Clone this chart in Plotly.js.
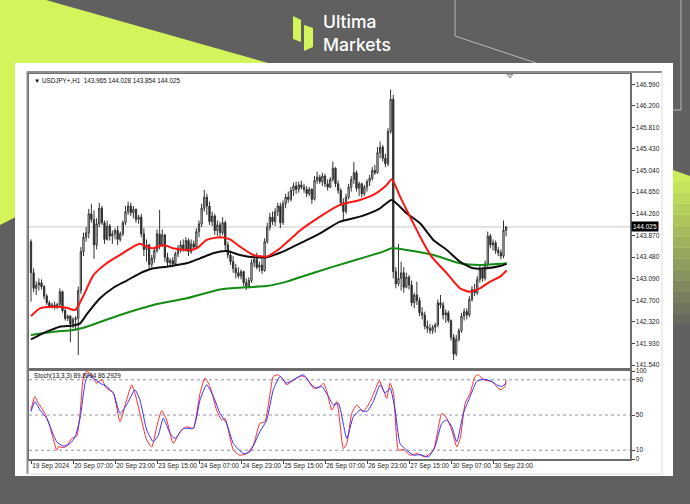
<!DOCTYPE html>
<html>
<head>
<meta charset="utf-8">
<script src="https://cdn.plot.ly/plotly-3.0.1.min.js"></script>
<style>
  html, body { margin: 0; padding: 0; background: #606060; }
  #chart { width: 690px; height: 504px; }
</style>
</head>
<body>
<div id="chart"></div>
<script>
// USDJPY+ H1 candles, bar index 0 = 19 Sep 2024 15:00
const openP = [143.76,143.20,142.92,142.98,143.02,142.95,142.78,142.66,142.60,142.62,142.58,142.63,142.86,142.52,142.38,142.42,142.28,142.36,142.38,142.88,
143.58,143.84,143.92,144.26,144.16,143.70,144.08,144.36,144.10,143.80,144.04,143.86,143.90,143.96,143.80,143.90,144.10,144.30,144.40,144.28,
144.34,144.16,144.20,143.90,143.62,143.70,143.35,143.46,143.60,143.90,143.70,143.88,143.48,143.38,143.42,143.36,143.54,143.64,143.70,143.62,
143.78,143.58,143.72,143.66,143.94,144.08,144.36,144.56,144.40,144.12,144.22,143.96,144.06,143.92,144.10,143.70,143.52,143.40,143.28,143.20,
143.14,143.22,143.02,142.96,143.06,143.38,143.44,143.30,143.34,143.24,143.76,144.02,144.20,144.12,144.30,144.40,144.10,144.44,144.56,144.52,
144.68,144.76,144.70,144.78,144.74,144.70,144.62,144.70,144.52,144.86,144.92,144.84,144.94,144.80,144.74,144.88,145.08,144.80,144.68,144.46,
144.30,144.56,144.74,144.88,145.00,144.72,144.80,144.62,144.74,144.84,144.90,145.04,145.00,145.36,145.46,145.26,145.16,145.74,146.32,143.22,
143.00,143.10,143.20,142.94,143.12,142.98,142.66,142.80,142.70,142.48,142.44,142.24,142.20,142.16,142.22,142.26,142.66,142.62,142.44,142.48,
142.34,142.04,141.74,142.00,142.16,142.42,142.50,142.44,142.72,142.90,142.84,143.08,143.26,143.10,143.36,143.86,143.70,143.74,143.60,143.56,
143.50,143.965];
const highP = [143.80,143.28,143.05,143.10,143.08,142.98,142.82,142.70,142.66,142.68,142.66,142.92,142.88,142.56,142.45,142.44,142.40,142.42,142.95,143.66,
143.92,144.02,144.35,144.44,144.32,144.18,144.46,144.40,144.14,144.14,144.08,143.96,144.00,144.04,143.94,144.14,144.40,144.48,144.46,144.40,
144.36,144.24,144.26,144.00,143.80,143.72,143.52,143.66,143.98,144.33,143.98,143.90,143.56,143.46,143.48,143.58,143.70,143.78,143.80,143.84,
143.82,143.80,143.78,144.00,144.14,144.44,144.69,144.62,144.48,144.30,144.26,144.14,144.12,144.20,144.14,143.76,143.60,143.50,143.36,143.30,
143.26,143.24,143.10,143.12,143.44,143.50,143.56,143.40,143.46,143.82,144.10,144.28,144.30,144.36,144.46,144.46,144.50,144.62,144.66,144.74,
144.82,144.84,144.84,144.86,144.80,144.76,144.74,144.72,144.94,145.02,144.96,145.00,144.98,144.88,144.92,145.20,145.10,144.86,144.72,144.54,
144.62,144.80,144.94,145.19,145.04,144.84,144.82,144.78,144.88,144.96,145.10,145.14,145.46,145.56,145.50,145.34,145.80,146.49,146.40,143.30,
143.72,143.40,143.30,143.20,143.16,143.06,142.84,143.04,142.76,142.58,142.50,142.34,142.28,142.26,142.30,142.72,142.80,142.68,142.54,142.52,
142.36,142.10,142.08,142.20,142.48,142.56,142.56,142.78,142.96,143.00,143.14,143.32,143.30,143.42,143.94,143.90,143.80,143.78,143.66,143.62,
144.14,144.028];
const lowP = [142.68,142.85,142.80,142.88,142.90,142.72,142.62,142.57,142.56,142.54,142.55,142.60,142.48,142.34,142.33,141.95,142.20,142.16,141.72,142.82,
143.50,143.76,143.82,144.10,143.45,143.62,144.02,144.06,143.72,143.78,143.78,143.72,143.80,143.70,143.76,143.86,144.06,144.24,144.22,144.18,
144.10,144.08,143.84,143.50,143.40,143.26,143.30,143.38,143.56,143.62,143.66,143.40,143.32,143.30,143.30,143.34,143.48,143.56,143.58,143.58,
143.50,143.54,143.60,143.64,143.84,144.02,144.30,144.24,144.06,144.04,143.88,143.86,143.82,143.88,143.60,143.46,143.34,143.20,143.10,143.10,
143.08,142.96,142.89,142.92,143.02,143.30,143.26,143.22,143.18,143.22,143.72,143.96,144.06,144.04,144.22,144.00,144.06,144.36,144.46,144.48,
144.58,144.62,144.64,144.70,144.64,144.56,144.58,144.44,144.50,144.80,144.80,144.76,144.74,144.68,144.72,144.84,144.74,144.62,144.40,144.15,
144.26,144.52,144.66,144.80,144.66,144.58,144.56,144.58,144.66,144.76,144.86,144.96,144.98,145.26,145.20,145.10,145.12,145.70,143.10,142.92,
142.96,142.88,142.84,142.92,142.90,142.60,142.56,142.62,142.42,142.36,142.18,142.12,142.10,142.10,142.12,142.22,142.56,142.36,142.30,142.30,
141.98,141.63,141.70,141.96,142.12,142.34,142.36,142.40,142.68,142.78,142.80,143.02,143.04,143.06,143.30,143.64,143.60,143.54,143.50,143.44,
143.46,143.854];
const closeP = [143.20,142.92,142.98,143.02,142.95,142.78,142.66,142.60,142.62,142.58,142.63,142.86,142.52,142.38,142.42,142.28,142.36,142.38,142.88,143.58,
143.84,143.92,144.26,144.16,143.70,144.08,144.36,144.10,143.80,144.04,143.86,143.90,143.96,143.80,143.90,144.10,144.30,144.40,144.28,144.34,
144.16,144.20,143.90,143.62,143.70,143.35,143.46,143.60,143.90,143.70,143.88,143.48,143.38,143.42,143.36,143.54,143.64,143.70,143.62,143.78,
143.58,143.72,143.66,143.94,144.08,144.36,144.56,144.40,144.12,144.22,143.96,144.06,143.92,144.10,143.70,143.52,143.40,143.28,143.20,143.14,
143.22,143.02,142.96,143.06,143.38,143.44,143.30,143.34,143.24,143.76,144.02,144.20,144.12,144.30,144.40,144.10,144.44,144.56,144.52,144.68,
144.76,144.70,144.78,144.74,144.70,144.62,144.70,144.52,144.86,144.92,144.84,144.94,144.80,144.74,144.88,145.08,144.80,144.68,144.46,144.30,
144.56,144.74,144.88,145.00,144.72,144.80,144.62,144.74,144.84,144.90,145.04,145.00,145.36,145.46,145.26,145.16,145.74,146.32,143.22,143.00,
143.10,143.20,142.94,143.12,142.98,142.66,142.80,142.70,142.48,142.44,142.24,142.20,142.16,142.22,142.26,142.66,142.62,142.44,142.48,142.34,
142.04,141.74,142.00,142.16,142.42,142.50,142.44,142.72,142.90,142.84,143.08,143.26,143.10,143.36,143.86,143.70,143.74,143.60,143.56,143.50,
143.965,144.025];
const barIndex = openP.map((_, i) => i);

// Moving averages (bar position, price)
const maRedBars = [0,3.4,8.5,13.6,16.8,19.9,23.7,28.8,33.9,39,41.5,44.1,46.6,50.4,54.2,59.3,63.1,66.9,72,75.8,79.6,84.7,89.8,94.9,99.9,102.5,110.1,117.7,125.3,130.4,135.5,137.4,140.6,145,149,152.6,158.4,163.4,167.2,171,174.9,178.7,181.2];
const maRed = [142.42,142.56,142.59,142.57,142.53,142.78,143.15,143.37,143.52,143.67,143.72,143.67,143.64,143.70,143.64,143.61,143.64,143.79,143.84,143.80,143.67,143.52,143.49,143.64,143.85,143.96,144.21,144.42,144.51,144.60,144.78,144.88,144.57,144.15,143.78,143.49,143.19,142.92,142.86,142.92,143.04,143.13,143.24];
const maBlackBars = [0,6,11,16.1,18.7,21.2,26.3,31.4,36.5,41.5,46.6,51.7,59.3,64.4,69.4,74.6,79.6,84.7,89.8,94.9,99.9,102.5,110.1,117.7,125.3,133,137.4,143.1,148.2,153.3,158.4,163.4,168.5,173.6,178.7,181.2];
const maBlack = [142.00,142.14,142.23,142.25,142.29,142.45,142.74,142.93,143.06,143.19,143.28,143.31,143.37,143.46,143.55,143.59,143.52,143.48,143.48,143.56,143.67,143.73,143.91,144.12,144.21,144.36,144.51,144.27,144.09,143.79,143.61,143.40,143.28,143.28,143.32,143.36];
const maGreenBars = [0,8.5,16.1,21.2,33.9,46.6,59.3,72,82.2,89.8,97.4,102.5,115.2,127.9,134.2,137.4,143.1,153.3,163.4,171,181.2];
const maGreen = [142.08,142.14,142.17,142.23,142.44,142.62,142.74,142.90,142.94,142.96,143.04,143.12,143.31,143.49,143.58,143.64,143.61,143.52,143.37,143.34,143.37];

// Stochastic(13,3,3): main and signal
const stochMainBars = [0,1.5,2.8,5.3,7.2,9.8,10.4,12.3,13.6,15.5,17.4,18.7,20,21.2,22.5,25,26.9,28.8,31.4,33.9,36.4,38.4,39.6,41.5,44.1,46,47.9,49.8,51.7,54.2,56.8,59.3,61.8,64.4,66.3,68.2,70.7,72.6,73.9,77.1,79.6,82.2,84.7,87.2,89.1,91.1,92.3,94.2,96.1,97.4,99.3,101.2,103.2,105,107.6,110.1,111.4,112.7,114.6,116.5,119,120.3,122.2,124.1,126.6,129.2,131.1,132.7,134.2,135.5,136.8,138.1,140,141.9,144.4,147,150.1,153.3,156.5,158.4,160.3,162.2,163.5,165.4,167.3,169.2,170.4,172.3,175.5,176.8,178.7,180.6,181];
const stochMain = [55.7,71,63.3,51.9,36.7,10,13.8,13,14.6,23.3,26,51.9,93.8,99.5,97.6,86.2,90,80.5,74.8,42.4,67.1,84.3,74.8,51.9,21.4,13.8,36.7,55,44.3,17.6,31,36.7,34.8,74.8,91.9,82.4,55.7,44.3,46.2,10,4.3,6.2,15.7,40.5,42.4,74.8,93.8,95.7,90,84.3,88.1,91.9,94.5,91.9,80.5,82.4,86.2,76.7,55.7,65.2,11.9,17.6,51.9,61.4,53.8,65.2,78.6,89.2,78.6,69,86.2,74.8,10,10.8,4.3,6.2,2.4,10,51.9,46.2,32.8,13.8,23.3,63.3,74.8,93.8,95.7,90,88.1,84.3,78.6,82.4,89.8094];
const stochSignalBars = [0,1.5,3.4,6,9.8,12.3,14.9,16.8,18.7,20.6,21.8,23.7,26.3,28.8,31.4,33.9,36.4,39.6,41.5,44.1,46.6,48.5,50.4,53,54.9,58,61.8,64.4,66.9,69.5,72,74.5,77.1,80.9,83.4,87.2,89.8,92.3,94.9,97.4,99.9,103.7,106.3,108.5,110.8,113.3,115.2,117.1,120.3,122.8,125.4,127.9,130.4,133,134.9,136.8,138.7,140.6,143.1,145.7,148.2,151.4,153.9,156.5,158.4,160.3,162.2,164.7,167.3,169.8,172.3,175.5,177.4,179.3,181];
const stochSignal = [53.8,65.2,55.7,46.2,19.5,14.6,17.6,25.2,46.2,86.2,95.7,91.9,86.2,82.4,74.8,51.9,61.4,78.6,67.1,32.9,19.5,27.1,46.2,29,23.3,34.8,34.8,67.1,84.3,71,51.9,40.5,17.6,6.2,8.1,31,44.3,78.6,93.8,86.2,90,95.7,86.2,80.5,82.4,71,61.4,63.3,23.3,48.1,55.7,53.8,65.2,84.3,74.8,80.5,55.7,17.6,10,4.3,5,2.4,13.8,40.5,44.3,36.7,19.5,51.9,71,88.1,90.8,88.1,84.3,82.4,86.2929];
const stochLevels = [10, 50, 90];

// Axis labels
const timeTickBars = [0,16,32,48,64,80,96,112,128,144,160,176];
const timeTickText = ['19 Sep 2024','20 Sep 07:00','20 Sep 23:00','23 Sep 15:00','24 Sep 07:00','24 Sep 23:00','25 Sep 15:00','26 Sep 07:00','26 Sep 23:00','27 Sep 15:00','30 Sep 07:00','30 Sep 23:00'];
const priceTicks = [146.590,146.200,145.810,145.430,145.040,144.650,144.260,143.870,143.480,143.090,142.700,142.320,141.930,141.540];
const stochTicks = [0,10,50,90,100];
const lastPrice = 144.025;
const headerText = '\u25BC USDJPY+,H1  143.965 144.028 143.854 144.025';
const stochText = 'Stoch(13,3,3) 89.8094 86.2929';
const brandText = 'Ultima<br>Markets';

// page geometry helpers (pixel -> paper)
const L = 29, T = 74, PW = 601, PH = 385;
const px = x => (x - L) / PW;
const py = y => (T + PH - y) / PH;
const pt = (x, y) => px(x).toFixed(5) + ',' + py(y).toFixed(5);

const LIME = '#d3f55b';
const mtFont = 'Liberation Sans, Arial, sans-serif';

const shapes = [];
// lime corner at top-left
shapes.push({type:'path', xref:'paper', yref:'paper', layer:'below', line:{width:0}, fillcolor:LIME,
  path:'M'+pt(0,0)+' L'+pt(46,0)+' L'+pt(300,72)+' L'+pt(0,225)+' Z'});
// lime fade on the right edge
const bands = 14;
for (let i = 0; i < bands; i++) {
  const y0 = 170 + i * 11, y1 = y0 + 11.5;
  shapes.push({type:'path', xref:'paper', yref:'paper', layer:'below', line:{width:0},
    fillcolor: LIME, opacity: Math.max(0, 1 - i / bands) * 0.95,
    path:'M'+pt(673, y0)+' L'+pt(690, y0 + (i === 0 ? 6 : 0))+' L'+pt(690, y1)+' L'+pt(673, y1)+' Z'});
}
// thin outline at top-right
shapes.push({type:'path', xref:'paper', yref:'paper', layer:'below', line:{color:'#b8b8b8', width:1},
  path:'M'+pt(455,0)+' L'+pt(455,36)+' L'+pt(545,66)});
shapes.push({type:'path', xref:'paper', yref:'paper', layer:'below', line:{color:'#b8b8b8', width:1},
  path:'M'+pt(681,0)+' L'+pt(681,110)+' L'+pt(672,110)});
// white card
shapes.push({type:'rect', xref:'paper', yref:'paper', layer:'below', line:{width:0}, fillcolor:'#ffffff',
  x0:px(15), x1:px(673), y0:py(476), y1:py(63)});
// terminal window frame
shapes.push({type:'line', xref:'paper', yref:'paper', layer:'below', line:{color:'#8e8e8e', width:2},
  x0:px(27), x1:px(662), y0:py(72), y1:py(72)});
shapes.push({type:'line', xref:'paper', yref:'paper', layer:'below', line:{color:'#8e8e8e', width:2},
  x0:px(27.5), x1:px(27.5), y0:py(72), y1:py(474)});
shapes.push({type:'line', xref:'paper', yref:'paper', layer:'below', line:{color:'#dcdcdc', width:1},
  x0:px(662), x1:px(662), y0:py(72), y1:py(474)});
shapes.push({type:'line', xref:'paper', yref:'paper', layer:'below', line:{color:'#dcdcdc', width:1},
  x0:px(27), x1:px(662), y0:py(474), y1:py(474)});
// logo mark
shapes.push({type:'path', xref:'paper', yref:'paper', layer:'above', line:{width:0}, fillcolor:LIME,
  path:'M'+pt(293,16)+' L'+pt(301,20)+' L'+pt(301,42)+' L'+pt(293,39)+' Z'});
shapes.push({type:'path', xref:'paper', yref:'paper', layer:'above', line:{width:0}, fillcolor:LIME,
  path:'M'+pt(304,25)+' L'+pt(313,28)+' L'+pt(313,47)+' L'+pt(304,51)+' Z'});
// bid line
shapes.push({type:'line', xref:'paper', yref:'y', layer:'below', line:{color:'#c8c8c8', width:1},
  x0:0, x1:1, y0:lastPrice, y1:lastPrice});
// stochastic levels
stochLevels.forEach(v => shapes.push({type:'line', xref:'paper', yref:'y2', layer:'below',
  line:{color:'#8f93a8', width:1, dash:'dot'}, x0:0, x1:1, y0:v, y1:v}));
// chart shift marker
shapes.push({type:'path', xref:'paper', yref:'paper', layer:'above', line:{color:'#9a9a9a', width:1}, fillcolor:'#d0d0d0',
  path:'M'+pt(507,74.5)+' L'+pt(513,74.5)+' L'+pt(510,78)+' Z'});

const annotations = [
  {xref:'paper', yref:'paper', x:px(321), y:py(32.5), xanchor:'left', yanchor:'middle', align:'left', showarrow:false,
   text:brandText, font:{family:'Inter, Roboto, sans-serif', size:17.5, color:'#ffffff', weight:500}},
  {xref:'paper', yref:'paper', x:px(32), y:py(80), xanchor:'left', yanchor:'middle', showarrow:false,
   text:headerText, font:{family:mtFont, size:6.3, color:'#111'}},
  {xref:'paper', yref:'paper', x:px(32), y:py(376), xanchor:'left', yanchor:'middle', showarrow:false,
   text:stochText, font:{family:mtFont, size:6.3, color:'#111'}},
  {xref:'paper', yref:'y', x:1, y:lastPrice, xanchor:'left', yanchor:'middle', xshift:1, showarrow:false,
   text:lastPrice.toFixed(3), bgcolor:'#000000', borderpad:1, font:{family:mtFont, size:6.5, color:'#ffffff'}}
];

const traces = [
  {type:'candlestick', x:barIndex, open:openP, high:highP, low:lowP, close:closeP, xaxis:'x', yaxis:'y',
   increasing:{line:{color:'#333333', width:1}, fillcolor:'#ffffff'},
   decreasing:{line:{color:'#333333', width:1}, fillcolor:'#1a1a1a'},
   whiskerwidth:0, hoverinfo:'skip', showlegend:false},
  {type:'scatter', mode:'lines', x:maGreenBars, y:maGreen, xaxis:'x', yaxis:'y', line:{color:'#128c12', width:2, shape:'spline', smoothing:0.6}, hoverinfo:'skip', showlegend:false},
  {type:'scatter', mode:'lines', x:maBlackBars, y:maBlack, xaxis:'x', yaxis:'y', line:{color:'#0d0d0d', width:2, shape:'spline', smoothing:0.6}, hoverinfo:'skip', showlegend:false},
  {type:'scatter', mode:'lines', x:maRedBars, y:maRed, xaxis:'x', yaxis:'y', line:{color:'#ff1414', width:2, shape:'spline', smoothing:0.6}, hoverinfo:'skip', showlegend:false},
  {type:'scatter', mode:'lines', x:stochMainBars, y:stochMain, xaxis:'x2', yaxis:'y2', line:{color:'#ff2a2a', width:1, shape:'spline', smoothing:0.5}, hoverinfo:'skip', showlegend:false},
  {type:'scatter', mode:'lines', x:stochSignalBars, y:stochSignal, xaxis:'x2', yaxis:'y2', line:{color:'#3434ff', width:1, shape:'spline', smoothing:0.5}, hoverinfo:'skip', showlegend:false}
];

const axisCommon = {showgrid:false, zeroline:false, showline:true, mirror:true, linecolor:'#6e6e6e', linewidth:1.5,
  tickfont:{family:mtFont, size:6.5, color:'#222'}, tickcolor:'#444', ticklen:3, fixedrange:true};

const layout = {
  width:690, height:504,
  margin:{l:L, r:690 - L - PW, t:T, b:504 - T - PH, pad:0},
  paper_bgcolor:'#606060', plot_bgcolor:'#ffffff',
  showlegend:false,
  xaxis: Object.assign({}, axisCommon, {anchor:'y', domain:[0,1], range:[-0.76, 228.19], showticklabels:false, ticks:'',
    rangeslider:{visible:false}}),
  xaxis2: Object.assign({}, axisCommon, {anchor:'y2', domain:[0,1], matches:'x', range:[-0.76, 228.19], ticks:'outside',
    tickvals:timeTickBars, ticktext:timeTickText, ticklabelposition:'outside right', tickangle:0}),
  yaxis: Object.assign({}, axisCommon, {anchor:'x', domain:[(459-368)/PH, 1], side:'right', range:[141.487, 146.775],
    tickvals:priceTicks, tickformat:'.3f', ticks:'outside'}),
  yaxis2: Object.assign({}, axisCommon, {anchor:'x2', domain:[0, (459-371)/PH], side:'right', range:[0, 100],
    tickvals:stochTicks, ticktext:stochTicks.map(String), ticks:'outside'}),
  shapes: shapes,
  annotations: annotations
};

Plotly.newPlot('chart', traces, layout, {staticPlot:true, displayModeBar:false});
</script>
</body>
</html>
